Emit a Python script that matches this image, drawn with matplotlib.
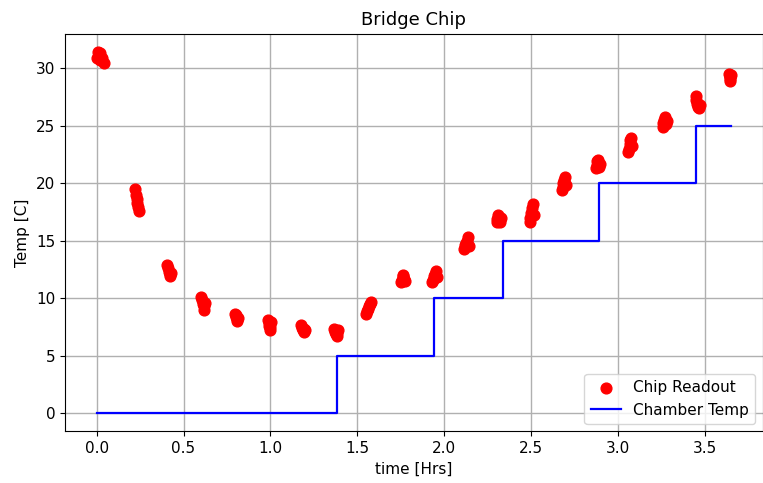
import matplotlib
matplotlib.use("Agg")
import matplotlib.pyplot as plt

# Chip readout clusters (time in hrs, temp in C)
chip_time = [
    0.00, 0.01, 0.02, 0.03, 0.04, 0.02,
    0.22, 0.225, 0.23, 0.235, 0.24, 0.245,
    0.405, 0.41, 0.415, 0.42, 0.425, 0.43,
    0.60, 0.605, 0.61, 0.615, 0.62, 0.625,
    0.795, 0.80, 0.805, 0.81, 0.80, 0.815,
    0.985, 0.99, 0.995, 1.00, 0.99, 1.005,
    1.175, 1.18, 1.185, 1.19, 1.195, 1.20,
    1.365, 1.37, 1.375, 1.38, 1.385, 1.39,
    1.55, 1.555, 1.56, 1.565, 1.57, 1.58,
    1.75, 1.755, 1.76, 1.765, 1.77, 1.775,
    1.93, 1.935, 1.94, 1.945, 1.95, 1.955,
    2.115, 2.12, 2.125, 2.13, 2.135, 2.14,
    2.30, 2.305, 2.31, 2.315, 2.32, 2.325,
    2.49, 2.495, 2.50, 2.505, 2.51, 2.515,
    2.675, 2.68, 2.685, 2.69, 2.695, 2.70,
    2.87, 2.875, 2.88, 2.885, 2.89, 2.895,
    3.055, 3.06, 3.065, 3.07, 3.075, 3.08,
    3.255, 3.26, 3.265, 3.27, 3.275, 3.28,
    3.445, 3.45, 3.455, 3.46, 3.465, 3.47,
    3.635, 3.64, 3.645, 3.64, 3.645, 3.65,
]
chip_temp = [
    30.9, 31.4, 31.3, 30.9, 30.4, 30.7,
    19.5, 19.0, 18.6, 18.3, 17.9, 17.6,
    12.9, 12.6, 12.3, 12.1, 11.9, 12.2,
    10.1, 9.8, 9.5, 9.3, 9.0, 9.6,
    8.6, 8.4, 8.2, 8.0, 8.5, 8.3,
    8.1, 7.8, 7.5, 7.2, 7.6, 7.9,
    7.7, 7.4, 7.2, 7.1, 7.3, 7.2,
    7.3, 7.1, 6.9, 6.7, 7.0, 7.2,
    8.6, 8.9, 9.1, 9.3, 9.5, 9.7,
    11.4, 11.6, 11.9, 12.0, 11.7, 11.5,
    11.4, 11.6, 11.9, 12.1, 12.4, 11.8,
    14.3, 14.6, 14.8, 15.0, 15.3, 14.5,
    16.6, 16.9, 17.2, 16.8, 16.6, 17.0,
    16.6, 17.0, 17.4, 17.8, 18.2, 17.2,
    19.4, 19.7, 20.0, 20.3, 20.5, 19.8,
    21.3, 21.6, 21.9, 22.0, 21.4, 21.7,
    22.7, 23.0, 23.4, 23.7, 23.9, 23.2,
    24.9, 25.2, 25.5, 25.7, 25.1, 25.4,
    27.6, 27.2, 26.9, 26.6, 26.5, 26.8,
    29.5, 29.3, 29.0, 28.9, 29.2, 29.4,
]

# Chamber temperature set points (step changes)
chamber_time = [0.0, 1.38, 1.94, 2.34, 2.89, 3.445, 3.65]
chamber_temp = [0, 5, 10, 15, 20, 25, 25]

fig, ax = plt.subplots(figsize=(7.63, 4.83), dpi=100)
ax.scatter(chip_time, chip_temp, color="red", s=60, label="Chip Readout", zorder=3)
ax.plot(chamber_time, chamber_temp, color="blue", drawstyle="steps-post",
        linewidth=1.6, label="Chamber Temp", zorder=2)
ax.set_title("Bridge Chip", fontsize=13)
ax.set_xlabel("time [Hrs]", fontsize=11)
ax.set_ylabel("Temp [C]", fontsize=11)
ax.tick_params(labelsize=11)
ax.grid(True, color="#b0b0b0", linewidth=1.0)
ax.legend(loc="lower right", fontsize=11)
fig.subplots_adjust(left=0.085, right=1.0, top=0.93, bottom=0.107)
fig.savefig("out.png", dpi=100)
